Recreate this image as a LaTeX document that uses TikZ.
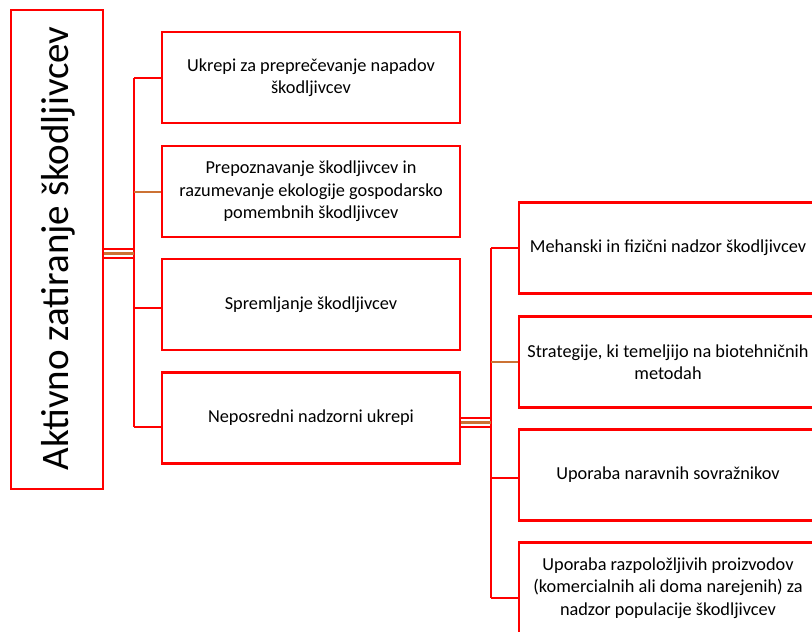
\documentclass[tikz,border=0pt]{standalone}
\usepackage{fontspec}
\setmainfont{Carlito}
\definecolor{boxred}{RGB}{255,0,0}
\definecolor{linkbrown}{RGB}{204,114,52}

\begin{document}
\begin{tikzpicture}[x=1pt,y=-1pt]
\tikzstyle{every node}+=[inner sep=0pt]
\tikzstyle{pestbox}=[draw=boxred, line width=2.3pt, rectangle, minimum width=298pt, minimum height=91pt, align=center, font=\fontsize{18.3}{22.4}\selectfont]
\tikzstyle{redlink}=[draw=boxred, line width=2.3pt]
\tikzstyle{brownlink}=[draw=linkbrown, line width=2.3pt]
\useasboundingbox (0,0) rectangle (812,632);
\node [draw=boxred, line width=2.3pt, minimum width=92pt, minimum height=479pt] (root) at (57,249.5) {};
\node [rotate=90, anchor=base, font=\fontsize{39}{47}\selectfont] (roottext) at (68,248.5) {Aktivno zatiranje škodljivcev};
\node [pestbox] (ukrepi) at (311,77.5) {Ukrepi za preprečevanje napadov\\škodljivcev};
\node [pestbox] (prepoz) at (311,191.5) {Prepoznavanje škodljivcev in\\razumevanje ekologije gospodarsko\\pomembnih škodljivcev};
\node [pestbox] (sprem) at (311,304.5) {Spremljanje škodljivcev};
\node [pestbox] (nepos) at (311,418) {Neposredni nadzorni ukrepi};
\node [pestbox] (mehan) at (668,248) {Mehanski in fizični nadzor škodljivcev};
\node [pestbox] (strat) at (668,362) {Strategije, ki temeljijo na biotehničnih\\metodah};
\node [pestbox] (narav) at (668,475) {Uporaba naravnih sovražnikov};
\node [pestbox] (uporaba) at (668,588) {Uporaba razpoložljivih proizvodov\\(komercialnih ali doma narejenih) za\\nadzor populacije škodljivcev};
\coordinate (trunk1) at (134,78);
\coordinate (trunk2) at (134,427);
\coordinate (trunk3) at (491,248);
\coordinate (trunk4) at (491,598);
\draw [redlink] (trunk1) -- (trunk2);
\draw [redlink] (trunk1) -- (ukrepi.west |- trunk1);
\draw [brownlink] (134,192) -- (prepoz.west |- 0,192);
\draw [redlink] (134,308) -- (sprem.west |- 0,308);
\draw [redlink] (trunk2) -- (nepos.west |- trunk2);
\draw [redlink] (root.east |- 0,249) -- (134,249);
\draw [brownlink] (root.east |- 0,253.5) -- (134,253.5);
\draw [redlink] (root.east |- 0,258) -- (134,258);
\draw [redlink] (trunk3) -- (trunk4);
\draw [redlink] (trunk3) -- (mehan.west |- trunk3);
\draw [brownlink] (491,362) -- (strat.west |- 0,362);
\draw [redlink] (491,478) -- (narav.west |- 0,478);
\draw [redlink] (trunk4) -- (uporaba.west |- trunk4);
\draw [redlink] (nepos.east |- 0,418) -- (491,418);
\draw [brownlink] (nepos.east |- 0,422.5) -- (491,422.5);
\draw [redlink] (nepos.east |- 0,427) -- (491,427);
\end{tikzpicture}
\end{document}
